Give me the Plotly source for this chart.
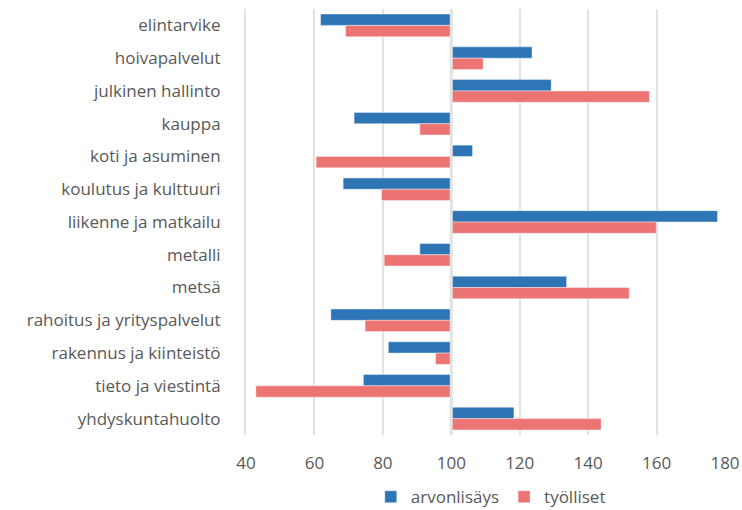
import plotly.graph_objects as go

categories = ["elintarvike", "hoivapalvelut", "julkinen hallinto", "kauppa",
              "koti ja asuminen", "koulutus ja kulttuuri", "liikenne ja matkailu",
              "metalli", "metsä", "rahoitus ja yrityspalvelut",
              "rakennus ja kiinteistö", "tieto ja viestintä", "yhdyskuntahuolto"]
arvonlisays = [61.8, 123.6, 129.2, 71.6, 106.2, 68.4, 177.8, 90.8, 133.7, 64.8, 81.6, 74.3, 118.3]
tyolliset = [69.1, 109.3, 157.9, 90.8, 60.5, 79.6, 159.9, 80.4, 152.0, 74.8, 95.4, 42.9, 143.8]
base_value = 100
x_ticks = [40, 60, 80, 100, 120, 140, 160, 180]

font_family = "Open Sans, Lato, sans-serif"
text_color = "#595959"

fig = go.Figure()
fig.add_trace(go.Bar(
    y=categories, x=[v - base_value for v in arvonlisays], base=base_value,
    orientation="h", name="arvonlisäys",
    marker=dict(color="#2E75B6", line=dict(color="rgba(255,255,255,0.5)", width=0.8)),
))
fig.add_trace(go.Bar(
    y=categories, x=[v - base_value for v in tyolliset], base=base_value,
    orientation="h", name="työlliset",
    marker=dict(color="#EC7574", line=dict(color="rgba(255,255,255,0.5)", width=0.8)),
))

fig.add_shape(type="line", xref="x", yref="paper", x0=base_value, x1=base_value,
              y0=0, y1=1, line=dict(color="#e2e2e2", width=3), layer="above")

fig.update_layout(
    width=742, height=510,
    margin=dict(l=246, r=17, t=9, b=75, autoexpand=False),
    paper_bgcolor="white", plot_bgcolor="white",
    barmode="group", bargap=0.31, bargroupgap=0,
    font=dict(family=font_family, size=17, color=text_color),
    showlegend=True,
    legend=dict(orientation="h", x=0.511, xanchor="center", y=-0.146, yanchor="middle",
                font=dict(size=17, color=text_color), itemwidth=30,
                traceorder="normal"),
    xaxis=dict(range=[40, 180], tickvals=x_ticks, showgrid=True,
               gridcolor="#e2e2e2", gridwidth=2, zeroline=False,
               showline=False, ticks="", ticklabelstandoff=16, tickfont=dict(size=17),
               fixedrange=True),
    yaxis=dict(autorange="reversed", showgrid=False, showline=True,
               linecolor="#e2e2e2", linewidth=2, ticks="", ticklabelstandoff=20,
               tickfont=dict(size=17), fixedrange=True),
)

fig.write_html("out.html", config={"displayModeBar": False},
               post_script="document.body.style.margin='0';")
